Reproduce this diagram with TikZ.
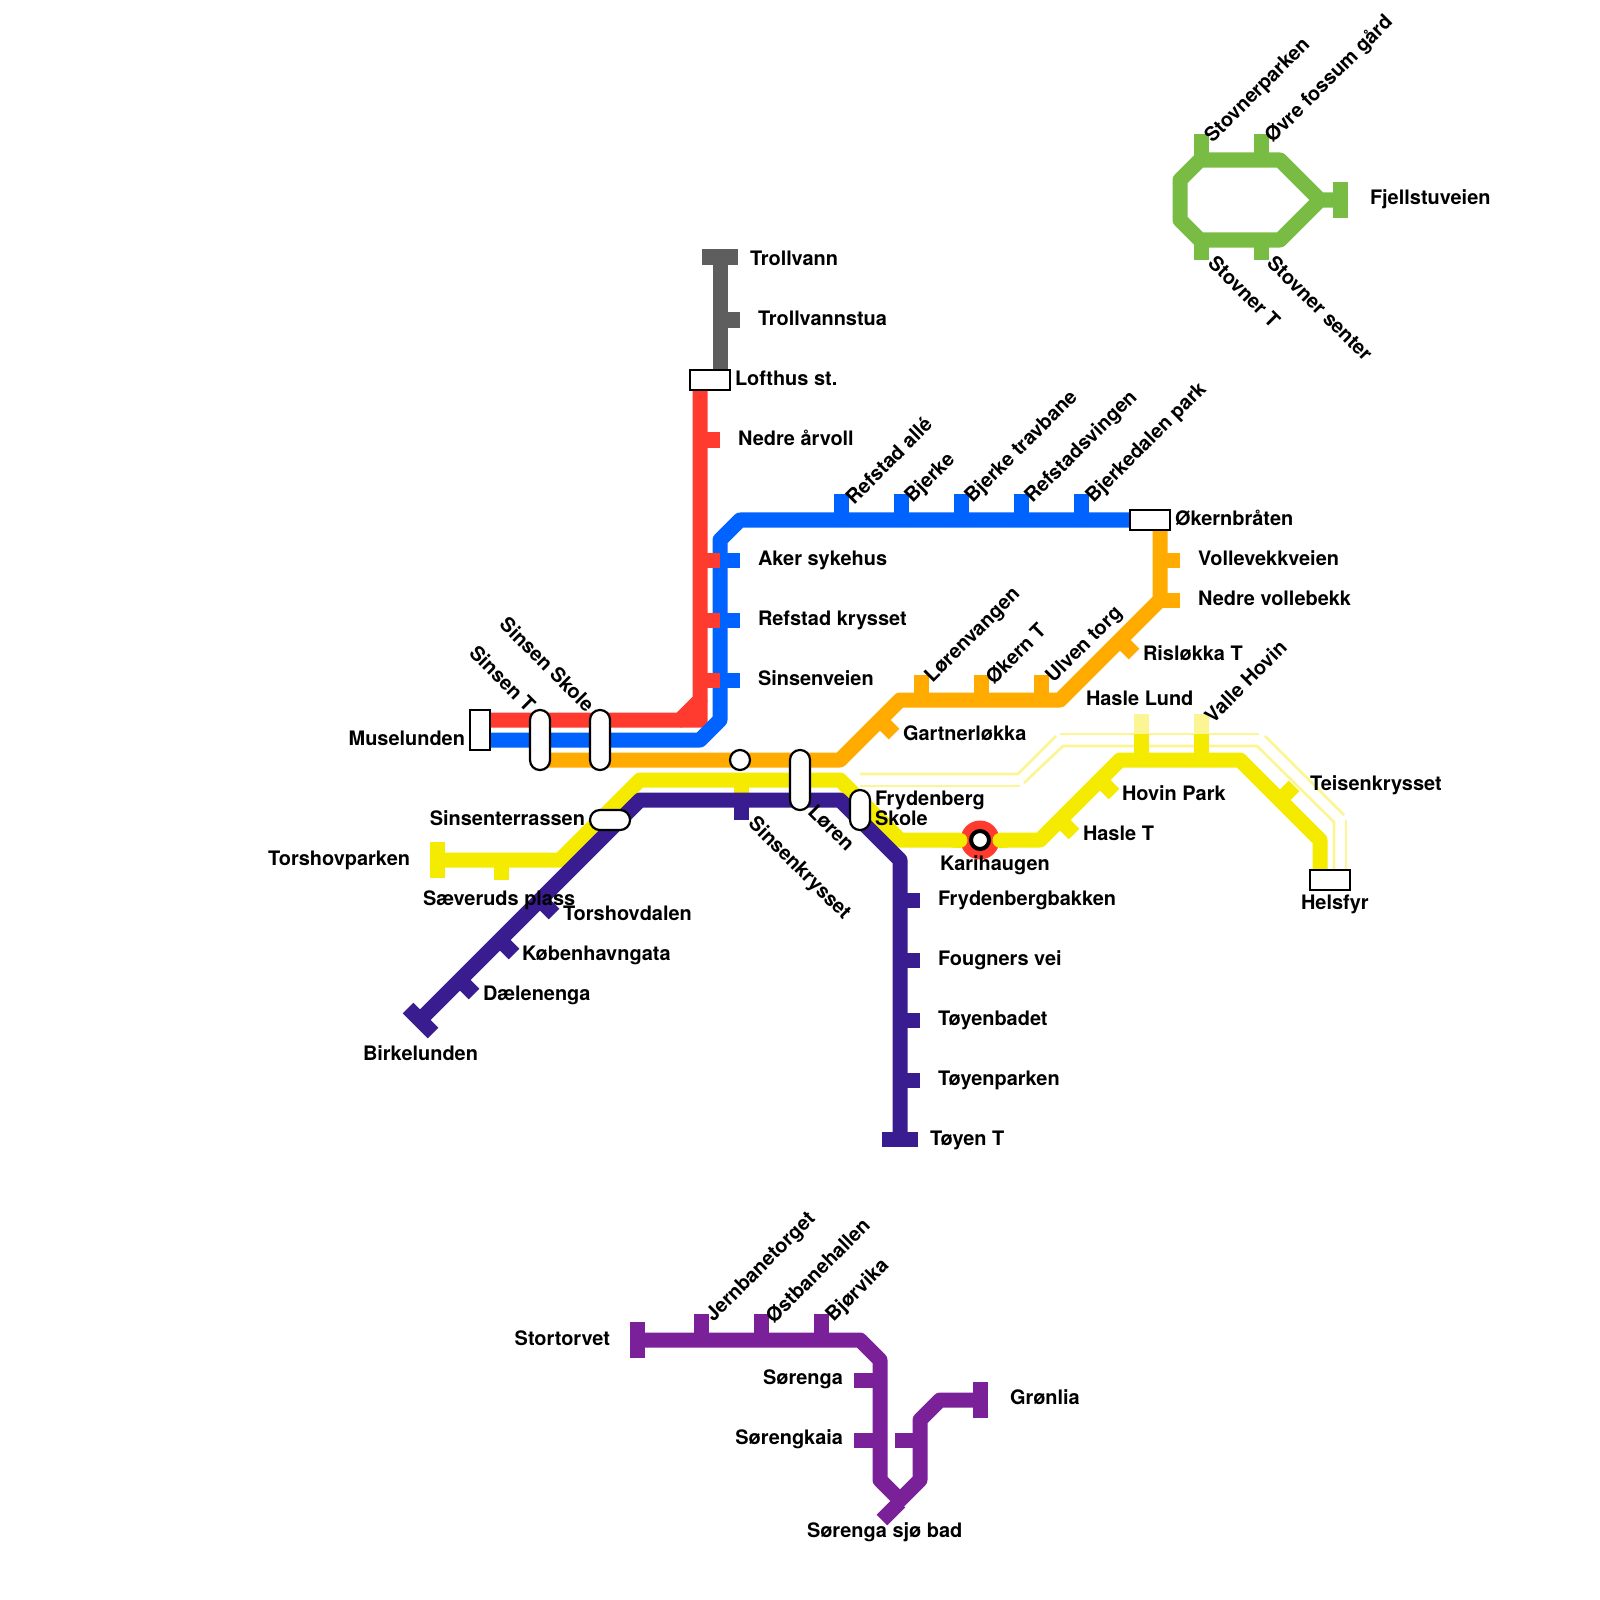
\documentclass[tikz,border=0pt]{standalone}
\usepackage{fontspec}
\setmainfont{TeX Gyre Heros}
\usepackage{tikz}
\usetikzlibrary{calc}
\tikzset{
  linestyle/.style={line width=1.5mm,line join=round},
  palestyle/.style={line width=0.26mm,color=metroPale},
  halt/.style={draw=black,fill=white,line width=0.22mm,minimum width=#1,inner sep=0pt,outer sep=0pt},
  boxh/.style={halt=4mm,rectangle,minimum height=2mm},
  boxv/.style={halt=2mm,rectangle,minimum height=4mm},
  pilllong/.style={halt=2mm,rectangle,rounded corners=0.99mm,minimum height=6mm},
  pillshort/.style={halt=2mm,rectangle,rounded corners=0.99mm,minimum height=4mm},
  pillflat/.style={halt=4mm,rectangle,rounded corners=0.99mm,minimum height=2mm},
  dot/.style={halt=2mm,circle},
  stop/.style={font=\bfseries\fontsize{5.67}{6.5}\selectfont,inner sep=0pt,outer sep=0pt},
  stopup/.style={stop,rotate=45,anchor=west},
  stopdown/.style={stop,rotate=-45,anchor=west},
  stopback/.style={stop,rotate=-45,anchor=east}
}
\definecolor{metroRed}{HTML}{FF3B30}
\definecolor{metroBlue}{HTML}{0062FF}
\definecolor{metroOrange}{HTML}{FFAB00}
\definecolor{metroYellow}{HTML}{F5EB00}
\definecolor{metroPale}{HTML}{FBF594}
\definecolor{metroNavy}{HTML}{391C8F}
\definecolor{metroGrey}{HTML}{5E5E5E}
\definecolor{metroGreen}{HTML}{78BC43}
\definecolor{metroPurple}{HTML}{7A2199}
\begin{document}
\begin{tikzpicture}[x=0.01cm,y=-0.01cm]
    \useasboundingbox (0,0) rectangle (1600,1600);
    \def\showGrey{
      \draw [linestyle,metroGrey] (720,257) -- (720,380);
      \draw [linestyle,metroGrey] (702,257) -- (738,257);
      \draw [linestyle,metroGrey] (720,320) -- (740,320);
    }
    \def\showRed{
      \fill [metroRed] (692.5,700) -- (707.5,700) -- (707.5,727.5) -- (680,727.5) -- (680,712.5) -- cycle;
      \draw [linestyle,metroRed] (700,380) -- (700,700) -- (680,720) -- (480,720);
    }
    \def\showRedTicks{
      \foreach \y in {440,560,620,680}
        \draw [linestyle,metroRed] (700,\y) -- (720,\y);
    }
    \def\showBlue{
      \draw [linestyle,metroBlue] (1150,520) -- (740,520) -- (720,540) -- (720,720) -- (700,740) -- (480,740);
      \foreach \y in {560,620,680}
        \draw [linestyle,metroBlue] (720,\y) -- (740,\y);
      \foreach \x in {841,901,961,1021,1081}
        \draw [linestyle,metroBlue] (\x,520) -- (\x,494);
    }
    \def\showOrange{
      \draw [linestyle,metroOrange] (540,760) -- (840,760) -- (900,700) -- (1060,700) -- (1160,600) -- (1160,520);
      \foreach \x in {921,981,1041}
        \draw [linestyle,metroOrange] (\x,700) -- (\x,675);
      \foreach \y in {560,600}
        \draw [linestyle,metroOrange] (1160,\y) -- (1180,\y);
      \draw [linestyle,metroOrange] (880,720) -- (894,734);
      \draw [linestyle,metroOrange] (1120,640) -- (1134,654);
    }
    \def\showYellow{
      \draw [linestyle,metroYellow] (440,860) -- (560,860) -- (640,780) -- (840,780) -- (900,840) -- (960,840);
      \draw [linestyle,metroYellow] (1000,840) -- (1040,840) -- (1120,760) -- (1240,760) -- (1320,840) -- (1320,880);
      \draw [linestyle,metroYellow] (437,842) -- (437,878);
      \draw [linestyle,metroYellow] (501,860) -- (501,880);
      \draw [linestyle,metroYellow] (741,780) -- (741,797);
      \draw [linestyle,metroYellow] (1100,780) -- (1114,794);
      \draw [linestyle,metroYellow] (1060,820) -- (1074,834);
      \draw [linestyle,metroYellow] (1280,800) -- (1294,786);
      \foreach \x in {1141,1201} {
        \draw [linestyle,metroYellow] (\x,760) -- (\x,734);
        \draw [linestyle,metroPale] (\x,734) -- (\x,714);
      }
    }
    \def\showPale{
      % tube beside the yellow line
      \draw [palestyle] (860,774) -- (1018,774) -- (1056,736);
      \draw [palestyle] (1060,734) -- (1259,734);
      \draw [palestyle] (860,786) -- (1020,786);
      \draw [palestyle] (1024,783) -- (1063,746) -- (1257,746) -- (1334,822) -- (1334,870);
      \draw [palestyle] (1265,736) -- (1344,815);
      \draw [palestyle] (1346,820) -- (1346,870);
    }
    \def\showNavy{
      \draw [linestyle,metroNavy] (900,1140) -- (900,860) -- (840,800) -- (640,800) -- (420,1020);
      \draw [linestyle,metroNavy] (882,1139) -- (918,1139);
      \draw [linestyle,metroNavy] (408,1008) -- (433,1033);
      \draw [linestyle,metroNavy] (741,800) -- (741,820);
      \foreach \y in {900,960,1020,1080}
        \draw [linestyle,metroNavy] (900,\y) -- (920,\y);
      \draw [linestyle,metroNavy] (540,900) -- (554,914);
      \draw [linestyle,metroNavy] (500,940) -- (514,954);
      \draw [linestyle,metroNavy] (460,980) -- (474,994);
    }
    \def\showGreen{
      \draw [linestyle,metroGreen] (1340,200) -- (1320,200) -- (1280,160) -- (1200,160) -- (1180,180) -- (1180,220) -- (1200,240) -- (1280,240) -- (1320,200);
      \draw [linestyle,metroGreen] (1340,182) -- (1340,218);
      \foreach \x in {1201,1261} {
        \draw [linestyle,metroGreen] (\x,160) -- (\x,134);
        \draw [linestyle,metroGreen] (\x,240) -- (\x,260);
      }
    }
    \def\showPurple{
      \draw [linestyle,metroPurple] (640,1340) -- (860,1340) -- (880,1360) -- (880,1480) -- (900,1500) -- (920,1480) -- (920,1420) -- (940,1400) -- (980,1400);
      \draw [linestyle,metroPurple] (637,1322) -- (637,1358);
      \draw [linestyle,metroPurple] (980,1382) -- (980,1418);
      \foreach \x in {701,761,821}
        \draw [linestyle,metroPurple] (\x,1340) -- (\x,1314);
      \foreach \y in {1380,1440}
        \draw [linestyle,metroPurple] (880,\y) -- (854,\y);
      \draw [linestyle,metroPurple] (920,1440) -- (895,1440);
      \draw [linestyle,metroPurple] (900,1502) -- (882,1520);
    }
    \def\showHalts{
      \node [boxv] (muselunden) at (480,730) {};
      \node [boxh] (lofthus) at (710,380) {};
      \node [boxh] (okernbraten) at (1150,520) {};
      \node [boxh] (helsfyr) at (1330,880) {};
      \node [pilllong] (sinsenT) at (540,740) {};
      \node [pilllong] (sinsenSkole) at (600,740) {};
      \node [pilllong] (loren) at (800,780) {};
      \node [pillshort] (frydenberg) at (860,810) {};
      \node [pillflat] (sinsenterrassen) at (610,820) {};
      \node [dot] (sinsenkrysset) at (740,760) {};
      \fill [metroRed] (980,840) circle (19.5);
      \draw [metroYellow,line width=1.5mm,line cap=round] (955,840) -- (960,840);
      \draw [metroYellow,line width=1.5mm,line cap=round] (1005,840) -- (1000,840);
      \node [circle,draw=black,fill=white,line width=0.04cm,minimum width=1.8mm,inner sep=0pt] (karihaugen) at (980,840) {};
    }
    \def\showLabels{
      \node [stop,anchor=west] (lTrollvann) at (750,258) {Trollvann};
      \node [stop,anchor=west] (lTrollvannstua) at (758,318) {Trollvannstua};
      \node [stop,anchor=west] (lLofthus) at (735,378) {Lofthus st.};
      \node [stop,anchor=west] (lArvoll) at (738,438) {Nedre årvoll};
      \node [stop,anchor=west] (lAker) at (758,560) {Aker sykehus};
      \node [stop,anchor=west] (lRefstad) at (758,620) {Refstad krysset};
      \node [stop,anchor=west] (lSinsenveien) at (758,678) {Sinsenveien};
      \node [stop,anchor=west] (lOkern) at (1175,518) {Økernbråten};
      \node [stop,anchor=west] (lVollevekk) at (1198,558) {Vollevekkveien};
      \node [stop,anchor=west] (lVollebekk) at (1198,598) {Nedre vollebekk};
      \node [stop,anchor=west] (lRisloka) at (1143,653) {Risløkka T};
      \node [stop,anchor=west] (lGartner) at (903,733) {Gartnerløkka};
      \node [stop,anchor=west] (lHasleLund) at (1086,698) {Hasle Lund};
      \node [stop,anchor=west] (lTeisen) at (1310,785) {Teisenkrysset};
      \node [stop,anchor=west] (lHovin) at (1122,793) {Hovin Park};
      \node [stop,anchor=west] (lHasleT) at (1083,833) {Hasle T};
      \node [stop,anchor=west] (lHelsfyr) at (1301,904) {Helsfyr};
      \node [stop,anchor=west] (lKari) at (940,865) {Karihaugen};
      \node [stop,anchor=west] (lFrydenberg) at (875,800) {Frydenberg};
      \node [stop,anchor=west] (lSkole) at (875,818) {Skole};
      \node [stop,anchor=west] (lBakken) at (938,900) {Frydenbergbakken};
      \node [stop,anchor=west] (lFougner) at (938,960) {Fougners vei};
      \node [stop,anchor=west] (lBadet) at (938,1020) {Tøyenbadet};
      \node [stop,anchor=west] (lParken) at (938,1080) {Tøyenparken};
      \node [stop,anchor=west] (lToyen) at (930,1140) {Tøyen T};
      \node [stop,anchor=east] (lMuse) at (465,738) {Muselunden};
      \node [stop,anchor=east] (lTerrasse) at (585,818) {Sinsenterrassen};
      \node [stop,anchor=east] (lTorshov) at (410,860) {Torshovparken};
      \node [stop,anchor=west] (lSaveruds) at (423,900) {Sæveruds plass};
      \node [stop,anchor=west] (lDalen) at (563,913) {Torshovdalen};
      \node [stop,anchor=west] (lKobenhavn) at (522,955) {Københavngata};
      \node [stop,anchor=west] (lDalenenga) at (483,995) {Dælenenga};
      \node [stop,anchor=west] (lBirkelunden) at (363,1053) {Birkelunden};
      \node [stop,anchor=west] (lFjell) at (1370,199) {Fjellstuveien};
      \node [stop,anchor=east] (lStortorvet) at (610,1338) {Stortorvet};
      \node [stop,anchor=east] (lSorenga) at (843,1379) {Sørenga};
      \node [stop,anchor=east] (lKaia) at (843,1439) {Sørengkaia};
      \node [stop,anchor=west] (lGronlia) at (1010,1397) {Grønlia};
      \node [stop,anchor=west] (lSjobad) at (807,1532) {Sørenga sjø bad};
      % slanted names
      \node [stopup] (lAlle) at (849,500) {Refstad allé};
      \node [stopup] (lBjerke) at (909,500) {Bjerke};
      \node [stopup] (lTravbane) at (969,500) {Bjerke travbane};
      \node [stopup] (lSvingen) at (1029,500) {Refstadsvingen};
      \node [stopup] (lPark) at (1090,500) {Bjerkedalen park};
      \node [stopup] (lVangen) at (929,680) {Lørenvangen};
      \node [stopup] (lOkernT) at (989,680) {Økern T};
      \node [stopup] (lUlven) at (1050,680) {Ulven torg};
      \node [stopup] (lValle) at (1208,719) {Valle Hovin};
      \node [stopup] (lStovnerparken) at (1209,140) {Stovnerparken};
      \node [stopup] (lFossum) at (1269,140) {Øvre fossum gård};
      \node [stopup] (lJernbane) at (710,1319) {Jernbanetorget};
      \node [stopup] (lOstbane) at (769,1319) {Østbanehallen};
      \node [stopup] (lBjorvika) at (830,1319) {Bjørvika};
      \node [stopdown] (lStovnerT) at (1212,259) {Stovner T};
      \node [stopdown] (lStovnerS) at (1271,259) {Stovner senter};
      \node [stopdown] (lKrysset) at (751,821) {Sinsenkrysset};
      \node [stopdown] (lLoren) at (812,808) {Løren};
      \node [stopback] (lSinsenT) at (532,708) {Sinsen T};
      \node [stopback] (lSinsenS) at (591,708) {Sinsen Skole};
    }
    \showPale
    \showGrey
    \showRed
    \showBlue
    \showRedTicks
    \showOrange
    \showYellow
    \showNavy
    \showGreen
    \showPurple
    \showHalts
    \showLabels
\end{tikzpicture}
\end{document}
